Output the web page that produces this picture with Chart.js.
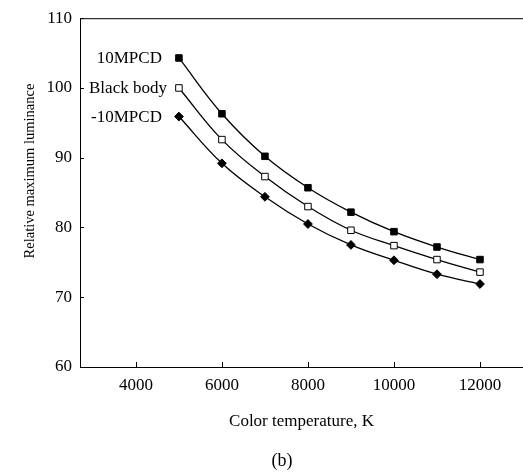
<!DOCTYPE html>
<html>
<head>
<meta charset="utf-8">
<script src="https://cdn.jsdelivr.net/npm/chart.js@4"></script>
<style>
  html, body { margin: 0; padding: 0; background: #fff; }
  #wrap { width: 523px; height: 476px; }
</style>
</head>
<body>
<div id="wrap"><canvas id="lumChart" width="523" height="476"></canvas></div>
<script>
// Data
const colorTemps = [5000, 6000, 7000, 8000, 9000, 10000, 11000, 12000];
const plus10MPCD = [104.3, 96.3, 90.2, 85.7, 82.2, 79.4, 77.2, 75.4];
const blackBody = [100.0, 92.6, 87.3, 83.0, 79.6, 77.4, 75.4, 73.6];
const minus10MPCD = [95.9, 89.2, 84.4, 80.5, 77.5, 75.3, 73.3, 71.9];
const seriesNames = ["10MPCD", "Black body", "-10MPCD"];
const xTickValues = [4000, 6000, 8000, 10000, 12000];
const yTickValues = [60, 70, 80, 90, 100, 110];

const SERIF = "'Liberation Serif', 'Times New Roman', serif";

const toPoints = (vals) => vals.map((v, i) => ({ x: colorTemps[i], y: v }));

// labels next to first point, inside ticks, top frame line, y title, panel tag
const decorPlugin = {
  id: "decor",
  afterDraw(chart) {
    const { ctx, chartArea, scales } = chart;
    const x = scales.x;
    const y = scales.y;
    ctx.save();
    ctx.strokeStyle = "#000";
    ctx.lineWidth = 1;

    // top frame line
    ctx.beginPath();
    ctx.moveTo(chartArea.left, chartArea.top + 0.5);
    ctx.lineTo(chartArea.right, chartArea.top + 0.5);
    ctx.stroke();

    // inward tick marks
    ctx.beginPath();
    xTickValues.forEach((v) => {
      const px = Math.round(x.getPixelForValue(v)) + 0.5;
      ctx.moveTo(px, chartArea.bottom);
      ctx.lineTo(px, chartArea.bottom - 5);
    });
    yTickValues.forEach((v) => {
      const py = Math.round(y.getPixelForValue(v)) + 0.5;
      ctx.moveTo(chartArea.left, py);
      ctx.lineTo(chartArea.left + 4, py);
    });
    ctx.stroke();

    // series names left of the first point
    ctx.fillStyle = "#000";
    ctx.font = "17px " + SERIF;
    ctx.textAlign = "right";
    ctx.textBaseline = "middle";
    const gaps = [17, 12, 17];
    chart.data.datasets.forEach((ds, i) => {
      const pt = chart.getDatasetMeta(i).data[0];
      ctx.fillText(seriesNames[i], pt.x - gaps[i], pt.y + 1);
    });

    // panel tag under the axis title
    ctx.font = "18px " + SERIF;
    ctx.textAlign = "center";
    ctx.fillText("(b)", 282, 461);

    // y axis title
    ctx.font = "14.5px " + SERIF;
    ctx.translate(30, 171);
    ctx.rotate(-Math.PI / 2);
    ctx.fillText("Relative maximum luminance", 0, 0);
    ctx.restore();
  },
};

const lineStyle = {
  borderColor: "#000",
  borderWidth: 1.3,
  pointBorderColor: "#000",
  pointBorderWidth: 1,
  tension: 0.4,
  fill: false,
};

new Chart(document.getElementById("lumChart"), {
  type: "line",
  data: {
    datasets: [
      {
        ...lineStyle,
        label: seriesNames[0],
        data: toPoints(plus10MPCD),
        pointStyle: "rect",
        pointRadius: 4.6,
        pointBackgroundColor: "#000",
      },
      {
        ...lineStyle,
        label: seriesNames[1],
        data: toPoints(blackBody),
        pointStyle: "rect",
        pointRadius: 4.6,
        pointBackgroundColor: "#fff",
      },
      {
        ...lineStyle,
        label: seriesNames[2],
        data: toPoints(minus10MPCD),
        pointStyle: "rectRot",
        pointRadius: 4.4,
        pointBackgroundColor: "#000",
      },
    ],
  },
  options: {
    responsive: false,
    animation: false,
    layout: { autoPadding: false, padding: { top: 13, right: 0, bottom: 28, left: 0 } },
    plugins: {
      legend: { display: false },
      tooltip: { enabled: false },
    },
    scales: {
      x: {
        type: "linear",
        min: 2700,
        max: 13000,
        afterBuildTicks: (scale) => {
          scale.ticks = xTickValues.map((v) => ({ value: v }));
        },
        afterFit: (scale) => {
          scale.height = 81;
          scale.paddingLeft = 0;
          scale.paddingRight = 0;
        },
        grid: { display: false, drawTicks: false },
        border: { display: true, color: "#000", width: 1 },
        ticks: {
          color: "#000",
          padding: 8,
          maxRotation: 0,
          font: { family: SERIF, size: 17 },
          callback: (v) => String(v),
        },
        title: {
          display: true,
          text: "Color temperature, K",
          color: "#000",
          font: { family: SERIF, size: 17 },
          padding: { top: 0, bottom: 16 },
        },
      },
      y: {
        min: 60,
        max: 110,
        afterBuildTicks: (scale) => {
          scale.ticks = yTickValues.map((v) => ({ value: v }));
        },
        afterFit: (scale) => {
          scale.width = 80;
        },
        grid: { display: false, drawTicks: false },
        border: { display: true, color: "#000", width: 1 },
        ticks: {
          color: "#000",
          padding: 8,
          font: { family: SERIF, size: 17 },
          callback: (v) => String(v),
        },
      },
    },
  },
  plugins: [decorPlugin],
});
</script>
</body>
</html>
